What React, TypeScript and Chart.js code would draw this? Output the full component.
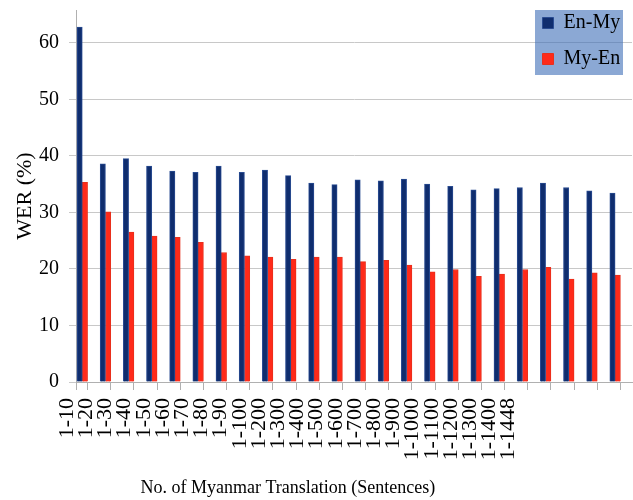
import React, { useEffect, useRef } from 'react';
import { Chart, registerables } from 'chart.js';

Chart.register(...registerables);

const categories = [
  '1-10', '1-20', '1-30', '1-40', '1-50', '1-60', '1-70', '1-80', '1-90',
  '1-100', '1-200', '1-300', '1-400', '1-500', '1-600', '1-700', '1-800', '1-900',
  '1-1000', '1-1100', '1-1200', '1-1300', '1-1400', '1-1448',
];

const enMy = [
  62.8, 38.6, 39.5, 38.2, 37.3, 37.1, 38.2, 37.1, 37.5, 36.5, 35.2, 34.9,
  35.75, 35.6, 35.9, 35.0, 34.6, 34.0, 34.2, 34.4, 35.2, 34.4, 33.8, 33.4,
];

const myEn = [
  35.3, 30.1, 26.5, 25.8, 25.6, 24.7, 22.9, 22.3, 22.1, 21.7, 22.1, 22.1,
  21.3, 21.5, 20.7, 19.5, 19.9, 18.7, 19.1, 19.9, 20.3, 18.2, 19.3, 18.9,
];

const yTickValues = [0, 10, 20, 30, 40, 50, 60];
const yMax = 65.8;

const seriesNames = ['En-My', 'My-En'];
const xTitle = 'No. of Myanmar Translation (Sentences)';
const yTitle = 'WER (%)';

const SERIF = "'Liberation Serif', 'Times New Roman', serif";
const GRID = '#c8c8c8';
const AXIS = '#b0b0b0';

export default function App() {
  const ref = useRef<HTMLCanvasElement | null>(null);

  useEffect(() => {
    if (!ref.current) return;

    const layoutPlugin = {
      id: 'refLayout',
      afterLayout(chart: any) {
        const ca = chart.chartArea;
        const xl = chart.scales.xl;
        if (xl) {
          const left = ca.left - 18.6;
          const width = 460.8;
          xl.left = left;
          xl.right = left + width;
          xl.width = width;
          xl.configure();
        }
        const lg = chart.legend;
        if (lg) {
          lg.left = ca.right - 105.5;
          lg.right = ca.right;
          lg.width = lg.right - lg.left;
          lg.top = ca.top - 13;
          lg.bottom = ca.bottom;
          lg.height = lg.bottom - lg.top;
          if (!lg.__wrapped) {
            const orig = lg.draw;
            lg.draw = function (...args: any[]) {
              const c = chart.chartArea;
              const ctx = chart.ctx;
              ctx.save();
              ctx.fillStyle = 'rgba(62, 110, 184, 0.6)';
              ctx.fillRect(c.right - 97, c.top, 88, 65);
              ctx.restore();
              return orig.apply(this, args);
            };
            lg.__wrapped = true;
          }
        }
      },
    };

    const chart = new Chart(ref.current, {
      type: 'bar',
      data: {
        labels: categories,
        datasets: [
          {
            label: seriesNames[0],
            data: enMy,
            backgroundColor: '#0f2d6e',
            borderColor: '#2a4c92',
            borderWidth: 1,
            barThickness: 5.3,
            xAxisID: 'x',
            yAxisID: 'y',
          },
          {
            label: seriesNames[1],
            data: myEn,
            backgroundColor: '#ff2a1a',
            borderColor: '#e8301c',
            borderWidth: 1,
            barThickness: 5.3,
            xAxisID: 'x',
            yAxisID: 'y',
          },
          { label: '', data: [], barThickness: 5.3, xAxisID: 'x', yAxisID: 'y' },
          { label: '', data: [], barThickness: 5.3, xAxisID: 'x', yAxisID: 'y' },
        ],
      },
      options: {
        responsive: false,
        animation: false,
        layout: { padding: { left: 0, right: 1, top: 10, bottom: 0 } },
        plugins: {
          tooltip: { enabled: false },
          legend: {
            position: 'chartArea' as any,
            align: 'start',
            labels: {
              filter: (item: any) => item.datasetIndex < 2,
              boxWidth: 11,
              boxHeight: 11,
              padding: 16,
              color: '#000',
              font: { family: SERIF, size: 20 },
            },
          },
        },
        scales: {
          x: {
            type: 'category',
            position: 'bottom',
            weight: 0,
            offset: true,
            afterBuildTicks: (scale: any) => {
              const n = categories.length;
              const t: any[] = [];
              for (let i = 0; i <= 2 * n; i++) t.push({ value: -0.5 + i / 2 });
              scale.ticks = t;
            },
            afterFit: (scale: any) => {
              scale.height = 8;
            },
            ticks: { display: false },
            grid: {
              display: true,
              offset: false,
              drawOnChartArea: false,
              drawTicks: true,
              tickLength: 8,
              color: AXIS,
            },
            border: { display: true, color: AXIS },
          },
          xl: {
            type: 'category',
            axis: 'x',
            position: 'bottom',
            weight: 1,
            offset: true,
            afterFit: (scale: any) => {
              scale.height = 110;
              scale.paddingLeft = 0;
              scale.paddingRight = 0;
            },
            grid: { display: false, drawTicks: false },
            border: { display: false },
            ticks: {
              autoSkip: false,
              maxRotation: 90,
              minRotation: 90,
              padding: 8,
              color: '#000',
              font: { family: SERIF, size: 22 },
            },
            title: {
              display: true,
              text: xTitle,
              color: '#000',
              font: { family: SERIF, size: 18 },
              padding: { top: 0, bottom: 1 },
            },
          },
          y: {
            type: 'linear',
            position: 'left',
            min: 0,
            max: yMax,
            afterBuildTicks: (scale: any) => {
              scale.ticks = yTickValues.map((v) => ({ value: v }));
            },
            afterFit: (scale: any) => {
              scale.width = 76;
              scale.paddingTop = 0;
              scale.paddingBottom = 0;
            },
            ticks: {
              padding: 10,
              color: '#000',
              font: { family: SERIF, size: 20 },
            },
            grid: {
              color: GRID,
              drawTicks: true,
              tickLength: 7,
            },
            border: { display: true, color: AXIS },
            title: {
              display: true,
              text: yTitle,
              color: '#000',
              font: { family: SERIF, size: 22 },
              padding: { top: 12, bottom: 0 },
            },
          },
        },
      },
      plugins: [layoutPlugin],
    } as any);

    return () => {
      chart.destroy();
    };
  }, []);

  return (
    <div style={{ position: 'fixed', left: 0, top: 0, width: 633, height: 500, background: '#fff' }}>
      <canvas ref={ref} width={633} height={500} style={{ width: 633, height: 500, display: 'block' }} />
    </div>
  );
}
